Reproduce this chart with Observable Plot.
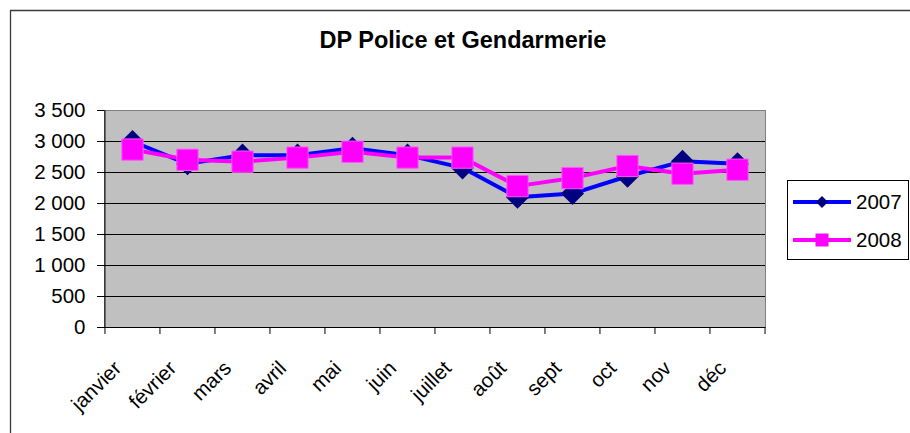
<!DOCTYPE html>
<html><head><meta charset="utf-8">
<script src="https://cdn.jsdelivr.net/npm/d3@7"></script>
<script src="https://cdn.jsdelivr.net/npm/@observablehq/plot@0.6"></script>
<style>body{margin:0;background:#fff} svg{display:block}</style>
</head><body><div id="chart"></div>
<script>
const title = "DP Police et Gendarmerie";
const months = ["janvier","février","mars","avril","mai","juin","juillet","août","sept","oct","nov","déc"];
const values2007 = [3000,2640,2780,2780,2890,2780,2575,2100,2160,2440,2680,2640];
const values2008 = [2870,2705,2675,2740,2835,2740,2740,2280,2410,2605,2480,2545];
const seriesNames = ["2007","2008"];
const seriesLine = ["#0000ff","#ff00ff"];
const seriesMarker = ["#000080","#ff00ff"];
const yTicks = [0,500,1000,1500,2000,2500,3000,3500];

const data2007 = months.map((m,i)=>({month:m, value:values2007[i]}));
const data2008 = months.map((m,i)=>({month:m, value:values2008[i]}));

const fr = d3.formatLocale({decimal:",", thousands:"\u00a0", grouping:[3], currency:["","\u00a0€"]});
const fmt = fr.format(",d");

const W = 910, H = 433, mL = 104, mR = 145, mT = 110, mB = 106;
const step = (W - mL - mR) / months.length;
const innerH = H - mT - mB;
const font = "'Liberation Sans', Arial, sans-serif";

const plot = Plot.plot({
  width: W, height: H,
  marginLeft: mL, marginRight: mR, marginTop: mT, marginBottom: mB,
  style: {fontFamily: font, fontSize: "20.5px", background: "#fff", color: "#000", overflow: "visible"},
  x: {type: "point", domain: months, padding: 0.5, axis: null},
  y: {domain: [0, 3500], axis: null},
  marks: [
    Plot.frame({fill: "#c0c0c0", stroke: "#808080"}),
    Plot.ruleY(yTicks.filter(d => d > 0 && d < 3500), {stroke: "#000", strokeWidth: 1}),
    Plot.ruleY([0], {stroke: "#000"}),
    Plot.ruleX([months[0]], {dx: -step/2, stroke: "#000"}),
    Plot.axisY({ticks: yTicks, tickSize: 7, tickPadding: 12, tickFormat: fmt, label: null, stroke: "#000", fontSize: 20.5}),
    Plot.ruleX(months, {dx: -step/2, insetTop: innerH, insetBottom: -7, stroke: "#000"}),
    Plot.ruleX([months[months.length-1]], {dx: step/2, insetTop: innerH, insetBottom: -7, stroke: "#000"}),
    Plot.text(months, {x: d => d, frameAnchor: "bottom", rotate: -45, textAnchor: "end", lineAnchor: "bottom", dy: 42, dx: -10, fontSize: 20.5, fill: "#000"}),
    Plot.line(data2007, {x: "month", y: "value", stroke: seriesLine[0], strokeWidth: 4}),
    Plot.dot(data2007, {x: "month", y: "value", symbol: "diamond2", r: 10.4, fill: seriesMarker[0], stroke: "none"}),
    Plot.line(data2008, {x: "month", y: "value", stroke: seriesLine[1], strokeWidth: 4}),
    Plot.dot(data2008, {x: "month", y: "value", symbol: "square", r: 12, fill: seriesMarker[1], stroke: "#ff55ff", strokeWidth: 1})
  ]
});

const svg = d3.select(plot);
// outer chart-area border (left and top visible)
svg.append("line").attr("x1", 10.5).attr("x2", 10.5).attr("y1", 10).attr("y2", H).attr("stroke", "#3a3a3a").attr("stroke-width", 1.3);
svg.append("line").attr("x1", 10).attr("x2", W).attr("y1", 10.5).attr("y2", 10.5).attr("stroke", "#3a3a3a").attr("stroke-width", 1.3);
// title
svg.append("text").attr("x", 463).attr("y", 48).attr("text-anchor", "middle")
  .attr("font-family", font).attr("font-weight", "bold").attr("font-size", 23.5).attr("fill", "#000").text(title);
// legend
const lg = svg.append("g").attr("transform", "translate(787,180)");
lg.append("rect").attr("x", 0.5).attr("y", 0.5).attr("width", 121).attr("height", 79).attr("fill", "#fff").attr("stroke", "#000");
const symbols = [d3.symbol(d3.symbolDiamond2, 92), d3.symbol(d3.symbolSquare, 169)];
seriesNames.forEach((name, i) => {
  const y = 22 + i * 38;
  lg.append("line").attr("x1", 6).attr("x2", 64).attr("y1", y).attr("y2", y).attr("stroke", seriesLine[i]).attr("stroke-width", 4);
  lg.append("path").attr("d", symbols[i]()).attr("transform", `translate(35,${y})`).attr("fill", seriesMarker[i]);
  lg.append("text").attr("x", 69).attr("y", y + 7).attr("text-anchor", "start").attr("font-family", font).attr("font-size", 20.5).attr("fill", "#000").text(name);
});

document.getElementById("chart").appendChild(plot);
</script>
</body></html>
